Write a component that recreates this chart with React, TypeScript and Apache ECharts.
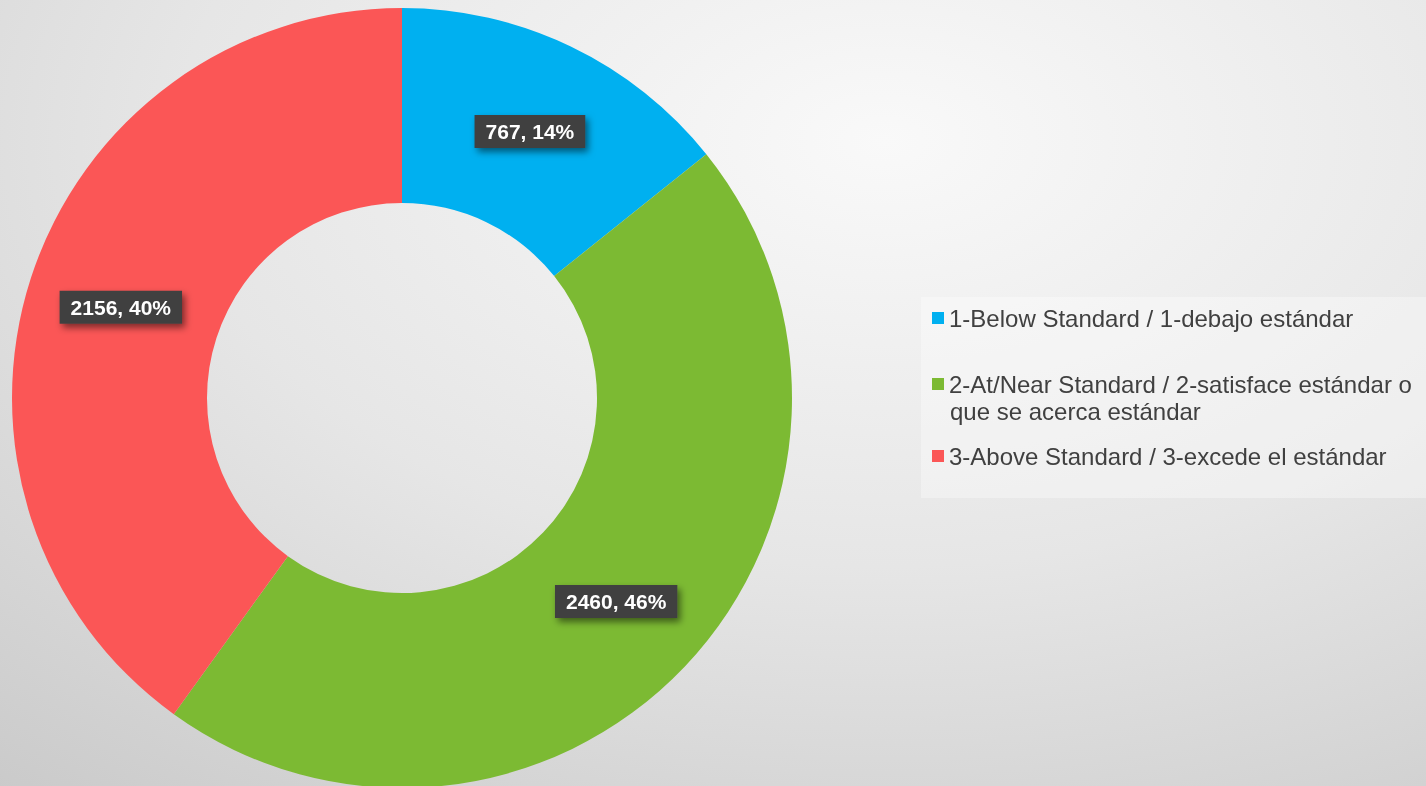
import React, { useEffect, useRef } from "react";
import * as echarts from "echarts";

const categories = [
  "1-Below Standard / 1-debajo estándar",
  "2-At/Near Standard / 2-satisface estándar o que se acerca estándar",
  "3-Above Standard / 3-excede el estándar",
];
const legendLine1 = [
  "1-Below Standard / 1-debajo estándar",
  "2-At/Near Standard / 2-satisface estándar o",
  "3-Above Standard / 3-excede el estándar",
];
const legendLine2 = "que se acerca estándar";
const values = [767, 2460, 2156];
const percents = ["14%", "46%", "40%"];
const colors = ["#00B0F0", "#7CBA33", "#FB5656"];

const FONT = "'Liberation Sans', Arial, sans-serif";

export default function App() {
  const ref = useRef<HTMLDivElement>(null);
  useEffect(() => {
    document.body.style.margin = "0";
    const chart = echarts.init(ref.current!, null, { renderer: "svg" });
    const legendTops = [306, 372, 444];
    chart.setOption({
      animation: false,
      backgroundColor: "transparent",
      graphic: [
        {
          type: "rect",
          shape: { x: 921, y: 297, width: 510, height: 201 },
          style: { fill: "rgba(255,255,255,0.35)" },
          z: 0,
        },
        {
          type: "text",
          x: 950,
          y: 411,
          style: {
            text: legendLine2,
            fontSize: 24,
            fontFamily: FONT,
            fill: "#404040",
            verticalAlign: "middle",
          },
        },
      ],
      legend: categories.map((c, i) => ({
        data: [c],
        orient: "vertical",
        left: 932,
        top: legendTops[i],
        itemWidth: 12,
        itemHeight: 12,
        itemGap: 0,
        padding: 0,
        icon: "rect",
        selectedMode: false,
        formatter: () => legendLine1[i],
        textStyle: {
          fontSize: 24,
          lineHeight: 24,
          color: "#404040",
          fontFamily: FONT,
          padding: 0,
        },
      })),
      series: [
        {
          type: "pie",
          center: [402, 398],
          radius: [195, 390],
          startAngle: 90,
          clockwise: true,
          avoidLabelOverlap: false,
          data: categories.map((c, i) => ({
            name: c,
            value: values[i],
            itemStyle: { color: colors[i] },
          })),
          label: {
            show: true,
            position: "inside",
            formatter: (p: any) => `${values[p.dataIndex]}, ${percents[p.dataIndex]}`,
            color: "#ffffff",
            fontWeight: "bold",
            fontSize: 21,
            fontFamily: FONT,
            backgroundColor: "#404040",
            padding: [6, 11, 6, 11],
            shadowColor: "rgba(0,0,0,0.5)",
            shadowBlur: 7,
            shadowOffsetX: 3,
            shadowOffsetY: 4,
          },
          labelLine: { show: false },
          emphasis: { disabled: true },
        },
      ],
    });
    return () => chart.dispose();
  }, []);
  return (
    <div
      style={{
        position: "fixed",
        left: 0,
        top: 0,
        width: 1426,
        height: 786,
        background:
          "radial-gradient(ellipse 110% 120% at 62% 18%, #f9f9f9 0%, #e6e6e6 45%, #c3c3c3 100%)",
      }}
    >
      <div ref={ref} style={{ width: 1426, height: 786 }} />
    </div>
  );
}
